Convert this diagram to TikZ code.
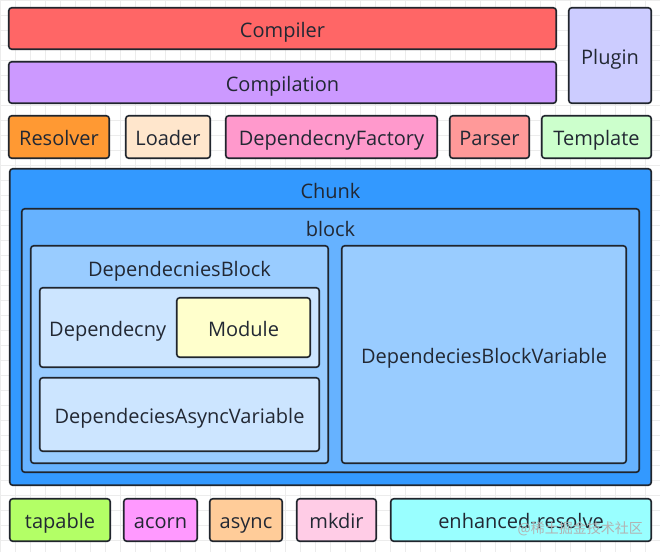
\documentclass[tikz,border=0pt]{standalone}
\usepackage{fontspec}
\setmainfont{Open Sans}
\newfontfamily\cjkfont{Noto Sans CJK SC}
\definecolor{txt}{HTML}{222833}
\definecolor{bord}{HTML}{20252D}
\definecolor{cCompiler}{HTML}{FF6666}
\definecolor{cCompilation}{HTML}{CC99FF}
\definecolor{cPlugin}{HTML}{CCCCFF}
\definecolor{cResolver}{HTML}{FF9933}
\definecolor{cLoader}{HTML}{FFE6CC}
\definecolor{cFactory}{HTML}{FF99CC}
\definecolor{cParser}{HTML}{FF9999}
\definecolor{cTemplate}{HTML}{CCFFCC}
\definecolor{cChunk}{HTML}{3399FF}
\definecolor{cBlock}{HTML}{66B2FF}
\definecolor{cDepBlock}{HTML}{99CCFF}
\definecolor{cDep}{HTML}{CCE5FF}
\definecolor{cModule}{HTML}{FFFFCC}
\definecolor{cTapable}{HTML}{B3FF66}
\definecolor{cAcorn}{HTML}{FF99FF}
\definecolor{cAsync}{HTML}{FFCC99}
\definecolor{cMkdir}{HTML}{FFCCE6}
\definecolor{cEnhanced}{HTML}{99FFFF}
\definecolor{gridc}{HTML}{ECECEC}
\tikzset{
  bx/.style={draw=bord, line width=1.6pt, rounded corners=3pt, text=txt,
    font=\fontsize{20}{24}\selectfont, inner sep=0pt, text height=17pt, text depth=0pt},
  lbl/.style={text=txt, font=\fontsize{20}{24}\selectfont, inner sep=0pt, text height=17pt, text depth=0pt},
}
\begin{document}
\begin{tikzpicture}[x=1pt,y=-1pt]
\useasboundingbox (0,0) rectangle (660,552);
\fill[white] (0,0) rectangle (660,552);
\foreach \i in {0,15,...,660} \draw[gridc, line width=0.5pt] (\i,0) -- (\i,552);
\foreach \j in {0,15,...,552} \draw[gridc, line width=0.5pt] (0,\j) -- (660,\j);
% top rows
\node[bx, fill=cCompiler, minimum width=547.5pt, minimum height=41.5pt] (compiler) at (282.5,28.5) {Compiler};
\node[bx, fill=cCompilation, minimum width=547.5pt, minimum height=41.5pt] (compilation) at (282.5,82.5) {Compilation};
\node[bx, fill=cPlugin, minimum width=82.5pt, minimum height=95.5pt] (plugin) at (610,55.5) {Plugin};
\node[bx, fill=cResolver, minimum width=100.5pt, minimum height=42.5pt] (resolver) at (59,137) {Resolver};
\node[bx, fill=cLoader, minimum width=84.5pt, minimum height=42.5pt] (loader) at (168,137) {Loader};
\node[bx, fill=cFactory, minimum width=211.5pt, minimum height=42.5pt] (factory) at (331.5,137) {DependecnyFactory};
\node[bx, fill=cParser, minimum width=79.5pt, minimum height=42.5pt] (parser) at (489.5,137) {Parser};
\node[bx, fill=cTemplate, minimum width=109.5pt, minimum height=42.5pt] (template) at (596.5,137) {Template};
% chunk container
\node[bx, fill=cChunk, minimum width=641.5pt, minimum height=316.5pt] (chunk) at (330.5,327) {};
\node[lbl] (chunklbl) at (330.5,190) {Chunk};
\node[bx, fill=cBlock, minimum width=617.5pt, minimum height=263.5pt] (block) at (330.5,340.5) {};
\node[lbl] (blocklbl) at (330.5,228) {block};
\node[bx, fill=cDepBlock, minimum width=297.5pt, minimum height=217.5pt] (depblock) at (179.5,354.5) {};
\node[lbl] (depblocklbl) at (179.5,268) {DependecniesBlock};
\node[bx, fill=cDepBlock, minimum width=284.5pt, minimum height=217.5pt] (dbv) at (484,354.5) {DependeciesBlockVariable};
\node[bx, fill=cDep, minimum width=279.5pt, minimum height=79.5pt] (dep) at (179.5,327.5) {};
\node[lbl, anchor=west] (deplbl) at (49,327.5) {Dependecny};
\node[bx, fill=cModule, minimum width=133.5pt, minimum height=59.5pt] (module) at (243.5,327.5) {Module};
\node[bx, fill=cDep, minimum width=279.5pt, minimum height=73.5pt] (dav) at (179.5,414.5) {DependeciesAsyncVariable};
% bottom row
\node[bx, fill=cTapable, minimum width=100.5pt, minimum height=42.5pt] (tapable) at (60,520) {tapable};
\node[bx, fill=cAcorn, minimum width=73.5pt, minimum height=42.5pt] (acorn) at (160.5,520) {acorn};
\node[bx, fill=cAsync, minimum width=72.5pt, minimum height=42.5pt] (async) at (246,520) {async};
\node[bx, fill=cMkdir, minimum width=79.5pt, minimum height=42.5pt] (mkdir) at (336.5,520) {mkdir};
\node[bx, fill=cEnhanced, minimum width=260.5pt, minimum height=42.5pt] (enhanced) at (521,520) {enhanced-resolve};
\node[text=gray!60, font=\cjkfont\fontsize{14}{16}\selectfont, inner sep=0pt, anchor=east] (wm) at (643,529) {@稀土掘金技术社区};
\end{tikzpicture}
\end{document}
